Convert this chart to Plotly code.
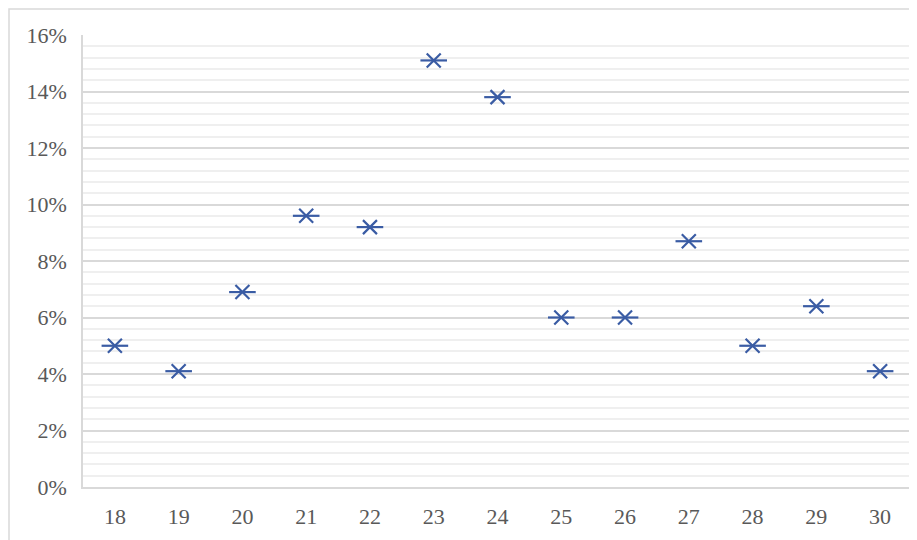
import plotly.graph_objects as go

ages = [18, 19, 20, 21, 22, 23, 24, 25, 26, 27, 28, 29, 30]
shares = [0.050, 0.041, 0.069, 0.096, 0.092, 0.151, 0.138, 0.060, 0.060, 0.087, 0.050, 0.064, 0.041]
y_ticks = [0, 0.02, 0.04, 0.06, 0.08, 0.10, 0.12, 0.14, 0.16]
y_labels = ["0%", "2%", "4%", "6%", "8%", "10%", "12%", "14%", "16%"]

color = "#3A5CA4"
fig = go.Figure()
fig.add_trace(go.Scatter(x=ages, y=shares, mode="markers",
                         marker=dict(symbol="x-thin-open", size=14, color=color, line=dict(color=color, width=2.2)),
                         hoverinfo="skip", showlegend=False))
fig.add_trace(go.Scatter(x=ages, y=shares, mode="markers",
                         marker=dict(symbol="line-ew-open", size=19, color=color, line=dict(color=color, width=2.2)),
                         showlegend=False))

W, H = 909, 532
L, R, T, B = 75, 5, 27, 53
pw, ph = W - L - R, H - T - B

font = dict(family="Liberation Serif", size=22, color="#595959")
fig.update_layout(
    width=W, height=H,
    margin=dict(l=L, r=R, t=T, b=B),
    paper_bgcolor="white", plot_bgcolor="white",
    font=font,
    xaxis=dict(range=[17.5, 30.5], tickmode="array", tickvals=ages, ticktext=[str(a) for a in ages],
               showgrid=False, zeroline=False, showline=True, linecolor="#D9D9D9", linewidth=1.5,
               ticks="", ticklabelstandoff=9, tickfont=font),
    yaxis=dict(range=[0, 0.16], tickmode="array", tickvals=y_ticks, ticktext=y_labels,
               showgrid=True, gridcolor="#D9D9D9", gridwidth=1.5, zeroline=False,
               showline=True, linecolor="#D9D9D9", linewidth=1.5, ticks="",
               ticklabelstandoff=10, tickfont=font,
               minor=dict(dtick=0.004, showgrid=True, gridcolor="#EFEFEF", gridwidth=1.5)),
    shapes=[dict(type="rect", xref="paper", yref="paper",
                 x0=(1 - L) / pw, x1=(W - 1 - L) / pw, y0=-0.3, y1=1 + (T - 1) / ph,
                 line=dict(color="#D9D9D9", width=1.5), fillcolor="rgba(0,0,0,0)", layer="below")],
)
fig.write_html("out.html")
